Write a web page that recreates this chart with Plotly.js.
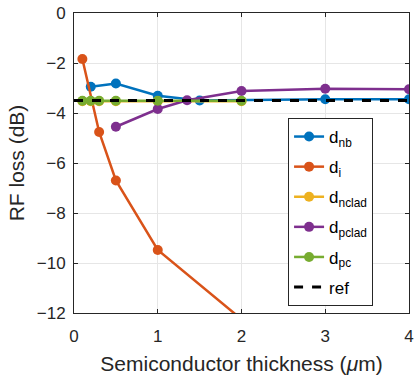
<!DOCTYPE html>
<html><head><meta charset="utf-8">
<script src="https://cdn.plot.ly/plotly-3.0.1.min.js"></script>
<style>html,body{margin:0;padding:0;background:#fff}#c{width:415px;height:378px}</style>
</head><body><div id="c"></div>
<script>
const nbX = [0.2, 0.5, 1, 1.5, 3, 4];
const nbY = [-2.95, -2.82, -3.31, -3.5, -3.45, -3.45];
const iX = [0.1, 0.3, 0.5, 1, 2];
const iY = [-1.84, -4.76, -6.7, -9.48, -12.25];
const ncladX = [0.1, 0.2, 0.3, 0.5, 1, 2];
const ncladY = [-3.53, -3.53, -3.53, -3.53, -3.53, -3.53];
const pcladX = [0.5, 1, 1.35, 2, 3, 4];
const pcladY = [-4.55, -3.84, -3.49, -3.12, -3.03, -3.05];
const pcX = [0.1, 0.2, 0.3, 0.5, 1, 2];
const pcY = [-3.51, -3.51, -3.51, -3.51, -3.51, -3.51];
const refX = [0, 4];
const refY = [-3.5, -3.5];
const names = ['d<sub>nb</sub>','d<sub>i</sub>','d<sub>nclad</sub>','d<sub>pclad</sub>','d<sub>pc</sub>','ref'];
const colors = ['#0072BD','#D95319','#EDB120','#7E2F8E','#77AC30','#000000'];

function tr(x,y,i){
  return {x:x,y:y,name:names[i],legendgroup:'g'+i,type:'scatter',mode:'lines+markers',
    line:{color:colors[i],width:2.5},marker:{color:colors[i],size:10},cliponaxis:true};
}
const data = [
  tr(nbX,nbY,0), tr(iX,iY,1), tr(ncladX,ncladY,2), tr(pcladX,pcladY,3), tr(pcX,pcY,4),
  {x:refX,y:refY,name:names[5],legendgroup:'g5',type:'scatter',mode:'lines',line:{color:'#000',width:3,dash:'dash'}}
];
const ax = {showline:true,linecolor:'#262626',linewidth:1,mirror:'ticks',ticks:'inside',ticklen:4,
  tickcolor:'#262626',showgrid:true,gridcolor:'#e6e6e6',zeroline:false,
  tickfont:{family:'Liberation Sans, Arial',size:17,color:'#262626'}};
const layout = {
  width:415,height:378,margin:{l:74,r:6,t:13,b:65},
  paper_bgcolor:'#fff',plot_bgcolor:'#fff',
  font:{family:'Liberation Sans, Arial',color:'#262626'},
  xaxis:Object.assign({},ax,{range:[0,4],tickvals:[0,1,2,3,4],ticklabelstandoff:8,
    title:{text:'Semiconductor thickness (<i>μ</i>m)',font:{size:21,color:'#262626'},standoff:10}}),
  yaxis:Object.assign({},ax,{range:[-12,0],tickvals:[-12,-10,-8,-6,-4,-2,0],ticklabelstandoff:4,
    title:{text:'RF loss (dB)',font:{size:21,color:'#262626'},standoff:6}}),
  showlegend:true,
  legend:{x:0.639,y:0.65,xanchor:'left',yanchor:'top',bgcolor:'#fff',bordercolor:'#262626',borderwidth:1,
    font:{size:17,color:'#000'},itemwidth:30,tracegroupgap:5,traceorder:'grouped'}
};
Plotly.newPlot('c',data,layout,{displayModeBar:false,staticPlot:true});
</script></body></html>
